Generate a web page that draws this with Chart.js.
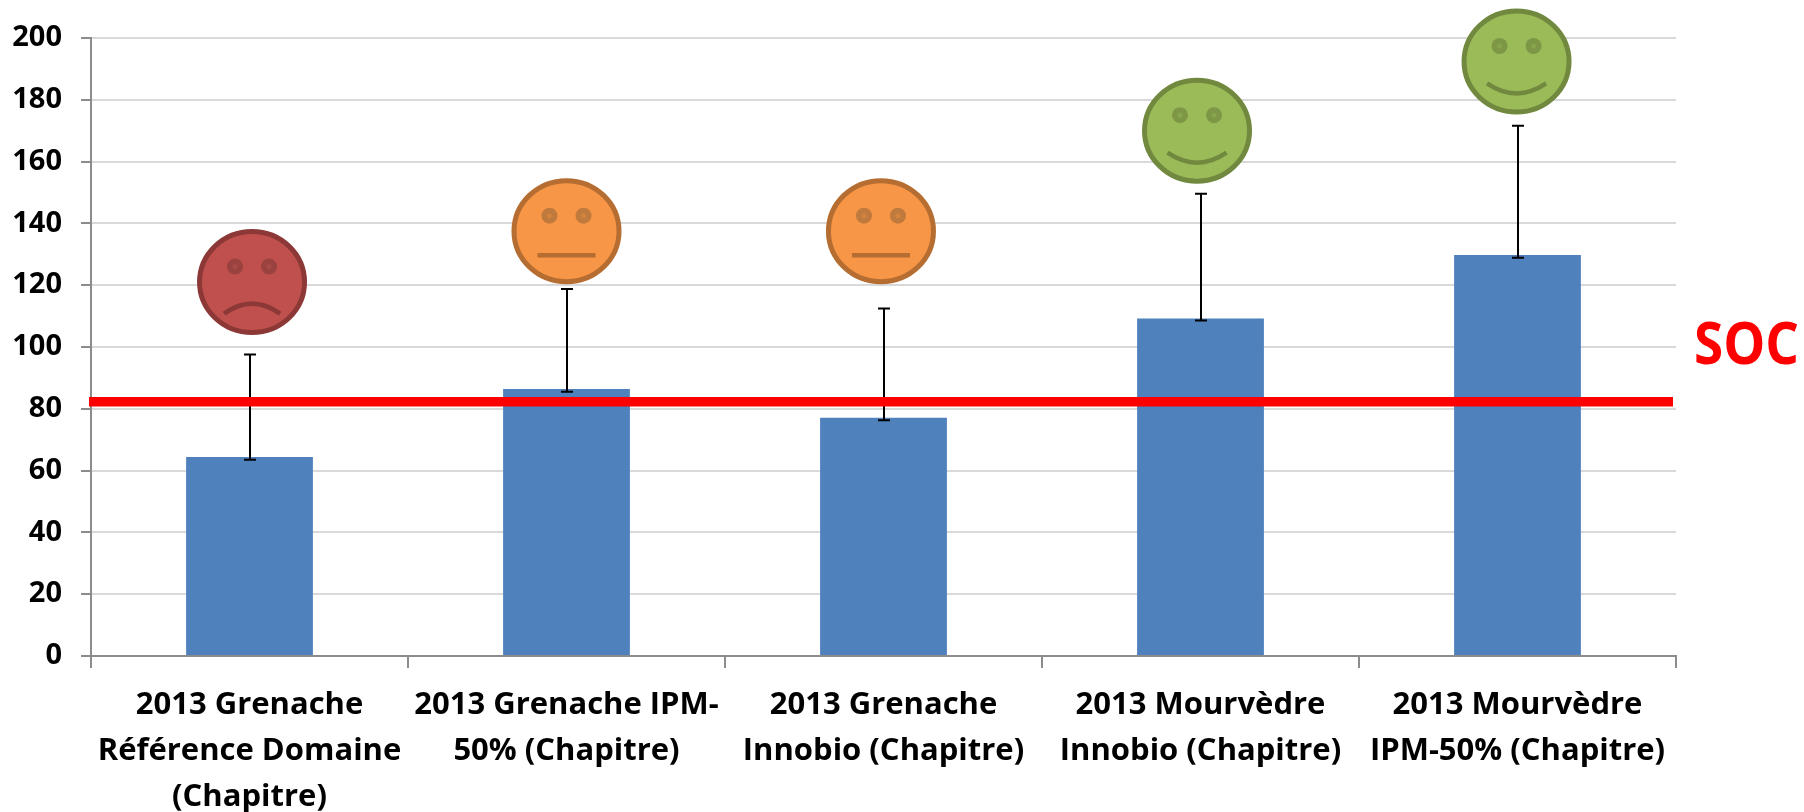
<!DOCTYPE html>
<html><head><meta charset="utf-8">
<script src="https://cdn.jsdelivr.net/npm/chart.js@4"></script>
<style>html,body{margin:0;padding:0;background:#fff}canvas{display:block}</style>
</head><body><canvas id="c" width="1804" height="812"></canvas>
<script>
const categories = [
  ["2013 Grenache","Référence Domaine","(Chapitre)"],
  ["2013 Grenache IPM-","50% (Chapitre)"],
  ["2013 Grenache","Innobio (Chapitre)"],
  ["2013 Mourvèdre","Innobio (Chapitre)"],
  ["2013 Mourvèdre","IPM-50% (Chapitre)"]
];
const barValues = [64.4, 86.4, 77.1, 109.2, 129.8];
const errLow = [63.5, 85.5, 76.3, 108.6, 128.9];
const errHigh = [97.6, 118.8, 112.5, 149.6, 171.6];
const socValue = 82.3;
const socLabel = "SOC";
const yTicks = [0,20,40,60,80,100,120,140,160,180,200];
const faceMood = ["sad","neutral","neutral","happy","happy"];
const faceValue = [121, 137.5, 137.5, 170, 192.4];
const faceShift = [0.008, 0, -0.008, -0.011, -0.003];
const moodFill = {sad:"#C0504D",neutral:"#F79646",happy:"#9BBB59"};
const moodEdge = {sad:"#8C3836",neutral:"#B66D31",happy:"#71893F"};
const moodEye = {sad:"#9A4240",neutral:"#C17A3E",happy:"#7D9747"};
const moodPupil = {sad:"#A84A47",neutral:"#D0843F",happy:"#88A44D"};

const FONT = '"Open Sans", sans-serif';

const overlay = {
  id:"overlay",
  afterDatasetsDraw(chart){
    const {ctx, scales:{x,y}} = chart;
    ctx.save();
    ctx.strokeStyle="#000"; ctx.lineWidth=2;
    errHigh.forEach((hi,i)=>{
      const px=Math.round(x.getPixelForValue(i)), t=y.getPixelForValue(hi), b=y.getPixelForValue(errLow[i]);
      ctx.beginPath();
      ctx.moveTo(px,t);ctx.lineTo(px,b);
      ctx.moveTo(px-6,t);ctx.lineTo(px+6,t);
      ctx.moveTo(px-6,b);ctx.lineTo(px+6,b);
      ctx.stroke();
    });
    const sy=y.getPixelForValue(socValue);
    ctx.strokeStyle="#FF0000"; ctx.lineWidth=9.5;
    ctx.beginPath();ctx.moveTo(x.left-2,sy);ctx.lineTo(x.right-3,sy);ctx.stroke();
    faceMood.forEach((m,i)=>{
      const cx=x.getPixelForValue(i+faceShift[i]), cy=y.getPixelForValue(faceValue[i]);
      ctx.lineWidth=5;
      ctx.fillStyle=moodFill[m];ctx.strokeStyle=moodEdge[m];
      ctx.beginPath();ctx.ellipse(cx,cy,52.5,50.5,0,0,Math.PI*2);ctx.fill();ctx.stroke();
      [-17,17].forEach(dx=>{
        ctx.fillStyle=moodEye[m];
        ctx.beginPath();ctx.arc(cx+dx,cy-15.5,8,0,Math.PI*2);ctx.fill();
        ctx.fillStyle=moodPupil[m];
        ctx.beginPath();ctx.arc(cx+dx,cy-15.5,2.5,0,Math.PI*2);ctx.fill();
      });
      ctx.strokeStyle=moodEdge[m];ctx.lineWidth=4.5;
      ctx.beginPath();
      if(m==="sad"){ctx.moveTo(cx-28,cy+31.5);ctx.quadraticCurveTo(cx,cy+11.5,cx+28,cy+31.5);}
      else if(m==="happy"){ctx.moveTo(cx-29.5,cy+22);ctx.quadraticCurveTo(cx,cy+42,cx+29.5,cy+22);}
      else{ctx.moveTo(cx-29,cy+24);ctx.lineTo(cx+29,cy+24);}
      ctx.stroke();
    });
    ctx.fillStyle="#FF0000";ctx.font='bold 59px '+FONT;ctx.textAlign="left";ctx.textBaseline="middle";
    ctx.fillText(socLabel,x.right+18,347,105);
    ctx.restore();
  }
};

new Chart(document.getElementById("c"),{
  type:"bar",
  data:{labels:categories,datasets:[{data:barValues,backgroundColor:"#4F81BD",barPercentage:0.4,categoryPercentage:1}]},
  options:{
    responsive:false,animation:false,
    layout:{padding:{left:0,right:128,top:38,bottom:0}},
    plugins:{legend:{display:false},title:{display:false},tooltip:{enabled:false}},
    scales:{
      x:{
        grid:{display:true,drawOnChartArea:false,drawTicks:true,tickLength:12,tickColor:"#8C8C8C",lineWidth:2,offset:true},
        border:{color:"#8C8C8C",width:2},
        ticks:{color:"#000",font:{family:FONT,weight:"bold",size:31,lineHeight:46/31},padding:14,maxRotation:0,minRotation:0,autoSkip:false},
        afterFit(s){s.height=812-656;}
      },
      y:{
        min:0,max:200,
        afterBuildTicks(s){s.ticks=yTicks.map(v=>({value:v}));},
        grid:{color:"#D9D9D9",lineWidth:2,tickLength:10,tickColor:"#8C8C8C"},
        border:{color:"#8C8C8C",width:2},
        ticks:{color:"#000",font:{family:FONT,weight:"bold",size:29},padding:19},
        afterFit(s){s.width=91;}
      }
    }
  },
  plugins:[overlay]
});
</script></body></html>
